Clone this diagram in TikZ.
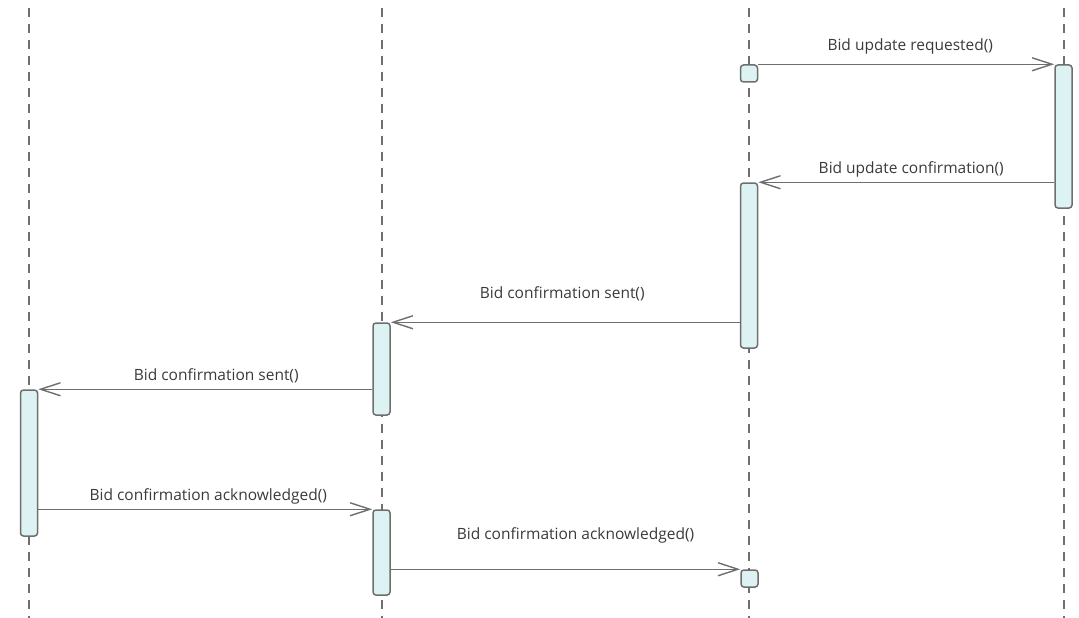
\documentclass[tikz,border=0pt]{standalone}
\usepackage{fontspec}
\setmainfont{Open Sans}
\usepackage{tikz}
\usetikzlibrary{arrows.meta,positioning,calc}
\definecolor{linegray}{HTML}{6E6E6E}
\definecolor{actfill}{HTML}{DDF3F3}
\definecolor{txtgray}{HTML}{3A3A3A}
\tikzstyle{life}=[draw=linegray,line width=1.3pt,dash pattern=on 9pt off 7pt]
\tikzstyle{Lact}=[draw=linegray,fill=actfill,line width=1.5pt,rounded corners=3pt,minimum width=17pt,inner sep=0pt]
\tikzstyle{Lmsg}=[draw=linegray,line width=1.4pt,-{Straight Barb[length=20pt,width=13pt,line width=1.4pt]}]
\tikzstyle{Llab}=[font=\fontsize{15.5}{18}\selectfont,text=txtgray,inner sep=0pt]
\newcommand{\actbar}[4]{\node[Lact,minimum height=#4pt] (#1) at (#2,#3) {};}

\begin{document}
\begin{tikzpicture}[x=1pt,y=-1pt]
  \useasboundingbox (0,0) rectangle (1079,618);
  % lifelines
  \foreach \lx/\ln in {29/l1,382/l2,749/l3,1064/l4}{
    \coordinate (\ln top) at (\lx,8);
    \coordinate (\ln bot) at (\lx,618);
    \draw[life] (\ln top) -- (\ln bot);
  }
  % activations
  \actbar{s1}{749}{73.5}{17}
  \actbar{b4}{1063.5}{136.5}{143}
  \actbar{b5}{749}{265.5}{165}
  \actbar{b6}{381.5}{369}{92}
  \actbar{b7}{29}{463}{146}
  \actbar{b8}{381.5}{552.5}{85}
  \actbar{s2}{749.5}{578.5}{17}
  % messages
  \draw[Lmsg] (s1.north east) -- (b4.north west)
    node[Llab,midway,yshift=17.5pt,xshift=4pt] {Bid update requested()};
  \draw[Lmsg] (b4.west |- b5.north) -- (b5.north east)
    node[Llab,midway,yshift=12.5pt,xshift=5pt] {Bid update confirmation()};
  \draw[Lmsg] (b5.west |- b6.north) -- (b6.north east)
    node[Llab,midway,yshift=28.5pt,xshift=-3pt] {Bid confirmation sent()};
  \draw[Lmsg] (b6.west |- b7.north) -- (b7.north east)
    node[Llab,midway,yshift=13pt,xshift=11pt] {Bid confirmation sent()};
  \draw[Lmsg] (b7.east |- b8.north) -- (b8.north west)
    node[Llab,midway,yshift=12.5pt,xshift=3pt] {Bid confirmation acknowledged()};
  \draw[Lmsg] (b8.east |- s2.north) -- (s2.north west)
    node[Llab,midway,yshift=33.5pt,xshift=10pt] {Bid confirmation acknowledged()};
\end{tikzpicture}
\end{document}
